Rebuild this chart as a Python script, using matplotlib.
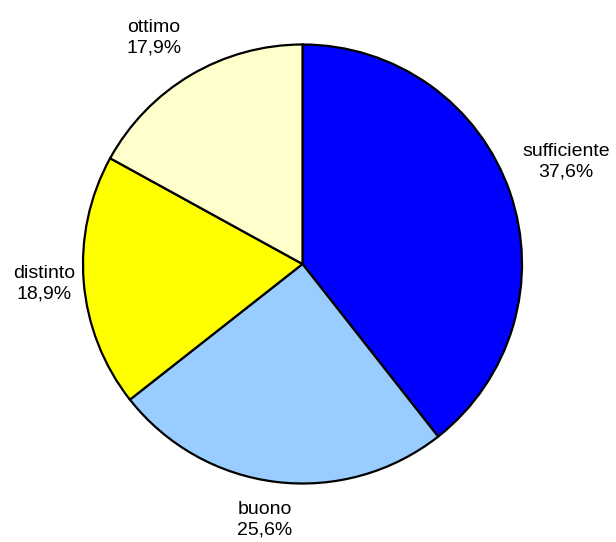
import matplotlib
matplotlib.use("Agg")
import matplotlib.pyplot as plt

categories = ["sufficiente", "buono", "distinto", "ottimo"]
# percentages printed in the labels
label_values = [37.6, 25.6, 18.9, 17.9]
# wedge shares as drawn in the picture (angles measured from the slices)
shares = [39.4, 25.0, 18.6, 17.0]
colors = ["#0000FF", "#99CCFF", "#FFFF00", "#FFFFCC"]

W, H = 616, 542
fig = plt.figure(figsize=(W / 100, H / 100), dpi=100)
ax = fig.add_axes([0, 0, 1, 1])

cx, cy, r = 302.5, H - 264, 219.5
ax.pie(shares, colors=colors, startangle=90, counterclock=False,
       center=(cx, cy), radius=r, frame=True,
       wedgeprops=dict(edgecolor="black", linewidth=1.6))
ax.set_xlim(0, W)
ax.set_ylim(0, H)
ax.set_aspect("equal")
ax.axis("off")

label_pos = [(566, H - 162), (265, H - 520), (44, H - 284), (154, H - 38)]
for cat, val, (x, y) in zip(categories, label_values, label_pos):
    txt = f"{cat}\n{val:.1f}%".replace(".", ",")
    ax.text(x, y, txt, ha="center", va="center", fontsize=14,
            family="Liberation Sans", linespacing=1.3)

fig.savefig("out.png", dpi=100)
